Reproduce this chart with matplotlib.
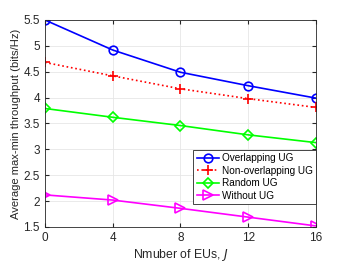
import matplotlib.pyplot as plt

plt.rcParams['font.family'] = ['Liberation Sans', 'DejaVu Sans']

# Dados
num_eus = [0, 4, 8, 12, 16]
overlapping = [5.50, 4.92, 4.49, 4.23, 3.99]
non_overlapping = [4.68, 4.42, 4.17, 3.98, 3.81]
random_ug = [3.79, 3.62, 3.46, 3.28, 3.13]
without_ug = [2.12, 2.02, 1.86, 1.69, 1.52]

fig = plt.figure(figsize=(3.48, 2.63), dpi=100)
ax = fig.add_axes([0.129, 0.137, 0.779, 0.787])

ax.plot(num_eus, overlapping, color='blue', marker='o', ms=6.2, mfc='none', mew=1.2, lw=1.2, label='Overlapping UG')
ax.plot(num_eus, non_overlapping, color='red', marker='+', ms=7.5, mew=1.2, lw=1.2, ls=':', label='Non-overlapping UG')
ax.plot(num_eus, random_ug, color='#00ff00', marker='D', ms=5.5, mfc='none', mew=1.2, lw=1.2, label='Random UG')
ax.plot(num_eus, without_ug, color='magenta', marker='>', ms=6.5, mfc='none', mew=1.2, lw=1.2, label='Without UG')

ax.set_xlim(0, 16)
ax.set_ylim(1.5, 5.5)
ax.set_xticks(num_eus)
ax.set_yticks([1.5, 2, 2.5, 3, 3.5, 4, 4.5, 5, 5.5])
ax.set_yticklabels(['1.5', '2', '2.5', '3', '3.5', '4', '4.5', '5', '5.5'])
ax.tick_params(direction='in', top=True, right=True, labelsize=8.5, colors='#262626', length=3)
ax.grid(True, color='#e6e6e6', lw=0.6)
for s in ax.spines.values():
    s.set_color('#262626')
    s.set_linewidth(0.6)

ax.set_xlabel('Nmuber of EUs, $J$', fontsize=8.8, color='#262626', labelpad=2)
ax.set_ylabel('Average max-min throughput (bits/Hz)', fontsize=8.1, color='#262626', labelpad=2)

leg = ax.legend(loc='lower right', bbox_to_anchor=(1.0, 0.11), fontsize=7.2, fancybox=False,
                edgecolor='#262626', framealpha=1, borderpad=0.35, labelspacing=0.25,
                handlelength=2.2, handletextpad=0.3, borderaxespad=0)
leg.get_frame().set_linewidth(0.6)

fig.savefig('out.png', dpi=100)
